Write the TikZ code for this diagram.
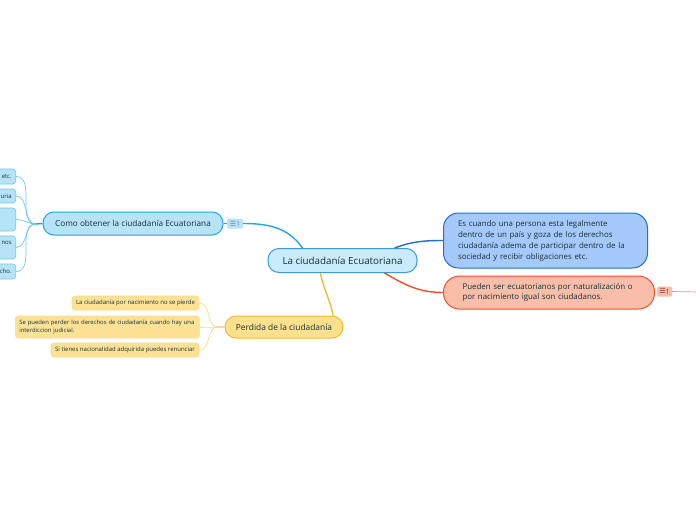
\documentclass[tikz,border=0pt]{standalone}
\usepackage{fontspec}
\setmainfont{Open Sans}
\newfontfamily\symfont{DejaVu Sans}
\definecolor{txt}{HTML}{163038}
\definecolor{cenF}{HTML}{C9EBFB}
\definecolor{cenB}{HTML}{3D9AD8}
\definecolor{comF}{HTML}{B6E3F8}
\definecolor{comB}{HTML}{1FA6E4}
\definecolor{comL}{HTML}{6CC8F0}
\definecolor{bluF}{HTML}{A6C9FB}
\definecolor{bluB}{HTML}{1E6EDC}
\definecolor{redF}{HTML}{F8BEAA}
\definecolor{redB}{HTML}{F05028}
\definecolor{yelF}{HTML}{FDE08C}
\definecolor{yelB}{HTML}{F8B932}
\definecolor{ychF}{HTML}{FDE296}
\definecolor{ychL}{HTML}{FCD98A}
\definecolor{badT}{HTML}{6A8AA0}
\tikzset{
  box/.style={rectangle, inner sep=0pt, text=txt},
  mainbox/.style={box, line width=1pt, rounded corners=11pt, font=\fontsize{8}{10}\selectfont},
  childbox/.style={box, line width=0.6pt, rounded corners=3pt, font=\fontsize{6}{8.5}\selectfont},
  badge/.style={box, rounded corners=1.5pt, minimum width=16pt, minimum height=10pt, font=\fontsize{7}{7}\selectfont, text=badT},
  mainline/.style={line width=1.4pt},
  thinline/.style={line width=0.7pt}
}
\begin{document}
\begin{tikzpicture}[x=1pt,y=-1pt]
\useasboundingbox (0,0) rectangle (696,520);
\fill[white] (0,0) rectangle (696,520);
\clip (0,0) rectangle (696,520);

% central
\node[mainbox, draw=cenB, fill=cenF, minimum width=149pt, minimum height=24pt, font=\fontsize{9.8}{11}\selectfont] (central) at (342.5,260.5) {La ciudadanía Ecuatoriana};

% Como obtener
\node[mainbox, draw=comB, fill=comF, minimum width=180pt, minimum height=23pt, font=\fontsize{8.2}{10}\selectfont] (como) at (133,223.5) {Como obtener la ciudadanía Ecuatoriana};
\node[badge, fill=comF] (badge1) at (235,223.5) {{\symfont\fontsize{7}{7}\selectfont ☰}1};

% Como children (cut off at left edge)
\node[childbox, draw=comL, fill=comF, anchor=east, text width=70pt, align=right, inner xsep=4pt, minimum height=15pt] (c1) at (16,176.5) {etc.};
\node[childbox, draw=comL, fill=comF, anchor=east, text width=70pt, align=right, inner xsep=4pt, minimum height=14pt] (c2) at (16,196) {uria};
\node[childbox, draw=comL, fill=comF, anchor=east, text width=70pt, align=right, inner xsep=4pt, minimum height=23pt] (c3) at (16,219.5) {};
\node[childbox, draw=comL, fill=comF, anchor=east, text width=70pt, align=right, inner xsep=4pt, minimum height=23pt] (c4) at (16,247.5) {nos\\\mbox{}};
\node[childbox, draw=comL, fill=comF, anchor=east, text width=70pt, align=right, inner xsep=4pt, minimum height=15pt] (c5) at (16,271.5) {cho.};
\coordinate (cj) at (36,224);

% Blue
\node[mainbox, draw=bluB, fill=bluF, rounded corners=15pt, anchor=west, text width=175pt, align=left, inner xsep=14.5pt, minimum height=55pt, font=\fontsize{7.9}{11}\selectfont] (blue) at (443,240.5) {Es cuando una persona esta legalmente\\dentro de un país y goza de los derechos\\ciudadanía adema de participar dentro de la\\sociedad y recibir obligaciones etc.};

% Red
\node[mainbox, draw=redB, fill=redF, rounded corners=16pt, anchor=west, text width=173pt, align=left, inner xsep=19pt, minimum height=33pt, font=\fontsize{7.9}{10.5}\selectfont] (red) at (443,292.5) {Pueden ser ecuatorianos por naturalización o\\por nacimiento igual son ciudadanos.};
\node[badge, fill=redF, minimum width=15pt, text=redB!60!black] (badge2) at (664.5,291.5) {{\symfont\fontsize{7}{7}\selectfont ☰}\raisebox{-1.5pt}{1}};
\coordinate (redend) at (700,292);

% Yellow
\node[mainbox, draw=yelB, fill=yelF, minimum width=118pt, minimum height=22pt, font=\fontsize{8.4}{10}\selectfont] (yel) at (284,327) {Perdida de la ciudadanía};
\node[childbox, draw=ychL, fill=ychF, minimum width=127pt, minimum height=14pt] (y1) at (135.5,303) {La ciudadanía por nacimiento no se pierde};
\node[childbox, draw=ychL, fill=ychF, anchor=west, text width=180pt, align=left, inner xsep=2pt, minimum height=22pt, font=\fontsize{5.9}{8.5}\selectfont] (y2) at (15,327) {\hspace*{2pt}\mbox{Se pueden perder los derechos de ciudadanía cuando hay una}\\\hspace*{2pt}interdiccion judicial.};
\node[childbox, draw=ychL, fill=ychF, minimum width=148pt, minimum height=14pt] (y3) at (125,350) {Si tienes nacionalidad adquirida puedes renunciar};
\coordinate (yj) at (218,327);

% connectors
\draw[mainline, comB] (badge1.east) to[out=0, in=125] ([xshift=-40pt]central.north);
\draw[thinline, comB] (como.east) -- (badge1.west);
\draw[mainline, bluB] ([xshift=52pt]central.north) to[out=20, in=180] (blue.west);
\draw[mainline, redB] ([xshift=42pt]central.south) to[out=-30, in=180] (red.west);
\draw[thinline, redB!60] (badge2.east) -- (redend);
\draw[mainline, yelB] ([xshift=-22pt]central.south) to[out=-80, in=100] ([xshift=49pt]yel.north);

\foreach \c in {c1,c2,c3,c4,c5}{
  \draw[thinline, comL] (\c.east) to[out=0, in=180] (cj);
}
\draw[mainline, comB] (cj) -- (como.west);

\foreach \c in {y1,y2,y3}{
  \draw[thinline, ychL] (\c.east) to[out=0, in=180] (yj);
}
\draw[mainline, ychL] (yj) -- (yel.west);
\end{tikzpicture}
\end{document}
